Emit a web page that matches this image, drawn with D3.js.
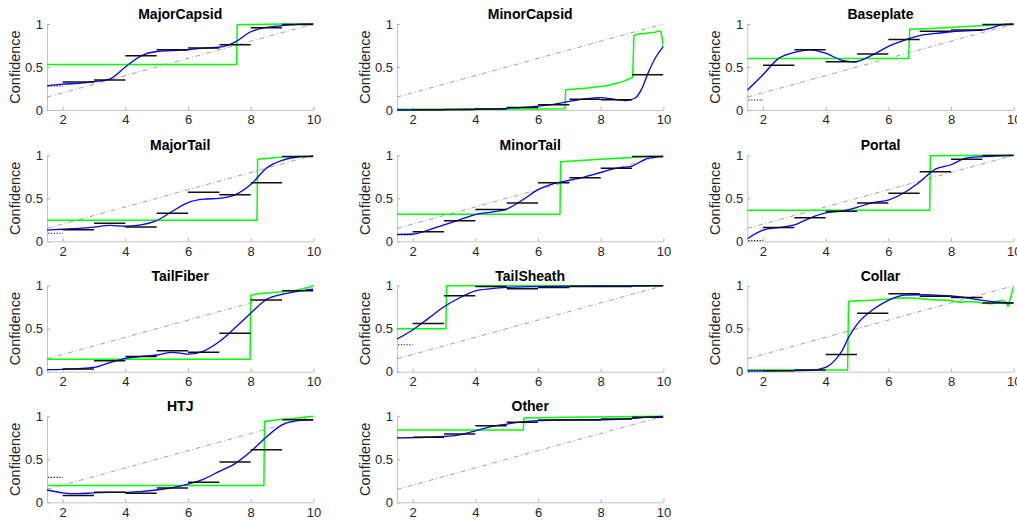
<!DOCTYPE html>
<html>
<head>
<meta charset="utf-8">
<script src="https://cdn.jsdelivr.net/npm/d3@7"></script>
<style>
  html, body { margin: 0; padding: 0; background: #fff; }
  svg { display: block; font-family: "Liberation Sans", Arial, Helvetica, sans-serif; }
</style>
</head>
<body>
<svg id="chart" width="1017" height="525"></svg>
<script>
// ---- data ----------------------------------------------------------------
const panelNames = ["MajorCapsid", "MinorCapsid", "Baseplate", "MajorTail", "MinorTail",
  "Portal", "TailFiber", "TailSheath", "Collar", "HTJ", "Other"];

const xTicks = [2, 4, 6, 8, 10];
const yTicks = [0, 0.5, 1];
const xDomain = [1.5, 10];
const yDomain = [0, 1];

// reference diagonal (confidence = score / 10)
const diagonalRef = [[1.5, 0.15], [10, 1]];

// score bins; first bin [1,2] drawn dotted, the rest solid
const binEdges = [1, 2, 3, 4, 5, 6, 7, 8, 9, 10];

// binned confidence per panel (one value per bin)
const majorCapsidBins = [0.28, 0.326, 0.35, 0.63, 0.70, 0.72, 0.76, 0.955, 0.995];
const minorCapsidBins = [0.004, 0.002, 0.006, 0.012, 0.03, 0.06, 0.125, 0.12, 0.41];
const baseplateBins   = [0.116, 0.52, 0.70, 0.56, 0.65, 0.82, 0.915, 0.93, 0.995];
const majorTailBins   = [0.093, 0.135, 0.21, 0.167, 0.326, 0.57, 0.54, 0.68, 0.985];
const minorTailBins   = [0.075, 0.11, 0.24, 0.37, 0.446, 0.68, 0.74, 0.85, 0.985];
const portalBins      = [0.01, 0.16, 0.275, 0.35, 0.446, 0.56, 0.81, 0.953, 0.998];
const tailFiberBins   = [0.025, 0.03, 0.128, 0.178, 0.244, 0.225, 0.446, 0.833, 0.94];
const tailSheathBins  = [0.314, 0.56, 0.884, 0.99, 0.965, 0.98, 0.99, 0.99, 0.998];
const collarBins      = [0.01, 0.01, 0.02, 0.2, 0.68, 0.907, 0.876, 0.864, 0.80];
const htjBins         = [0.29, 0.08, 0.116, 0.105, 0.167, 0.233, 0.47, 0.61, 0.96];
const otherBins       = [0.75, 0.756, 0.795, 0.89, 0.93, 0.957, 0.957, 0.97, 0.99];

// smoothed confidence curve per panel: [score, confidence]
const majorCapsidSmooth = [[1.5,0.28],[2,0.30],[2.5,0.31],[3,0.33],[3.5,0.36],[4,0.50],[4.5,0.63],[5,0.68],[5.5,0.69],[6,0.70],[6.5,0.72],[7,0.73],[7.5,0.79],[8,0.91],[8.5,0.96],[9,0.98],[9.5,0.995],[10,1.0]];
const minorCapsidSmooth = [[1.5,0.0],[2,0.0],[2.5,0.001],[3,0.003],[3.5,0.005],[4,0.008],[4.5,0.012],[5,0.02],[5.5,0.03],[6,0.045],[6.5,0.065],[7,0.1],[7.5,0.13],[8,0.145],[8.5,0.12],[8.8,0.11],[9.1,0.14],[9.3,0.24],[9.5,0.42],[9.75,0.61],[10,0.74]];
const baseplateSmooth   = [[1.5,0.23],[2,0.41],[2.5,0.60],[3,0.67],[3.5,0.70],[4,0.66],[4.5,0.58],[4.9,0.56],[5.5,0.64],[6,0.74],[6.5,0.81],[7,0.865],[7.5,0.89],[8,0.91],[8.5,0.92],[9,0.93],[9.3,0.955],[9.6,0.99],[10,1.0]];
const majorTailSmooth   = [[1.5,0.13],[2,0.14],[2.5,0.15],[3,0.165],[3.5,0.185],[4,0.175],[4.5,0.19],[5,0.24],[5.5,0.35],[6,0.45],[6.5,0.49],[7,0.50],[7.5,0.54],[8,0.66],[8.5,0.85],[9,0.94],[9.5,0.98],[10,0.99]];
const minorTailSmooth   = [[1.5,0.08],[2,0.085],[2.5,0.13],[3,0.19],[3.5,0.25],[4,0.31],[4.5,0.34],[5,0.375],[5.5,0.48],[6,0.60],[6.5,0.67],[7,0.71],[7.5,0.75],[8,0.80],[8.5,0.85],[9,0.875],[9.5,0.965],[10,0.985]];
const portalSmooth      = [[1.5,0.03],[2,0.13],[2.5,0.16],[3,0.19],[3.5,0.27],[4,0.33],[4.5,0.35],[5,0.395],[5.5,0.45],[6,0.48],[6.5,0.565],[7,0.69],[7.5,0.84],[8,0.89],[8.5,0.97],[9,0.985],[9.5,0.995],[10,1.0]];
const tailFiberSmooth   = [[1.5,0.023],[2,0.027],[2.5,0.035],[3,0.05],[3.5,0.105],[4,0.155],[4.5,0.178],[5,0.194],[5.5,0.225],[6,0.205],[6.5,0.24],[7,0.35],[7.5,0.51],[8,0.68],[8.5,0.84],[9,0.90],[9.5,0.935],[10,0.96]];
const tailSheathSmooth  = [[1.5,0.38],[2,0.485],[2.5,0.62],[3,0.755],[3.5,0.86],[4,0.94],[4.5,0.965],[5,0.98],[6,0.99],[7,0.995],[8,0.997],[9,0.998],[10,1.0]];
const collarSmooth      = [[1.5,0.01],[2,0.01],[2.5,0.012],[3,0.013],[3.5,0.015],[4,0.05],[4.3,0.135],[4.5,0.23],[4.75,0.41],[5,0.55],[5.5,0.72],[6,0.83],[6.5,0.89],[7,0.895],[7.5,0.89],[8,0.88],[8.5,0.86],[9,0.83],[9.5,0.81],[10,0.80]];
const htjSmooth         = [[1.5,0.143],[2,0.11],[2.5,0.10],[3,0.11],[3.5,0.115],[4,0.115],[4.5,0.125],[5,0.143],[5.5,0.17],[6,0.21],[6.5,0.27],[7,0.36],[7.5,0.45],[8,0.59],[8.5,0.76],[9,0.90],[9.5,0.95],[10,0.96]];
const otherSmooth       = [[1.5,0.75],[2,0.752],[2.5,0.758],[3,0.765],[3.5,0.785],[4,0.83],[4.5,0.88],[5,0.91],[5.5,0.935],[6,0.95],[6.5,0.955],[7,0.96],[8,0.96],[8.5,0.965],[9,0.975],[9.5,0.99],[10,1.0]];

// threshold (step) estimate per panel: [score, confidence]
const majorCapsidStep = [[1.5,0.53],[7.55,0.53],[7.57,0.99],[8,0.995],[9,1.0],[10,1.0]];
const minorCapsidStep = [[1.5,0.01],[3,0.01],[4,0.012],[5,0.012],[6,0.012],[6.86,0.015],[6.88,0.235],[7.2,0.245],[7.6,0.255],[7.9,0.27],[8.1,0.275],[8.3,0.29],[8.5,0.31],[8.7,0.33],[8.9,0.36],[9.02,0.38],[9.06,0.87],[9.2,0.885],[9.4,0.89],[9.6,0.90],[9.75,0.905],[9.85,0.92],[9.92,0.91],[9.97,0.82],[10,0.72]];
const baseplateStep   = [[1.5,0.60],[6.65,0.60],[6.68,0.94],[7.5,0.95],[8.5,0.97],[9.5,0.99],[10,1.0]];
const majorTailStep   = [[1.5,0.245],[8.2,0.245],[8.22,0.955],[9,0.98],[10,0.99]];
const minorTailStep   = [[1.5,0.315],[6.7,0.315],[6.72,0.925],[8,0.955],[9,0.975],[9.6,0.99],[10,0.99]];
const portalStep      = [[1.5,0.36],[7.32,0.36],[7.34,0.995],[10,1.0]];
const tailFiberStep   = [[1.5,0.145],[7.98,0.145],[8.0,0.89],[8.2,0.905],[8.5,0.915],[8.8,0.925],[9.0,0.93],[9.2,0.945],[9.4,0.94],[9.6,0.96],[9.8,0.975],[10,1.0]];
const tailSheathStep  = [[1.5,0.5],[3.06,0.5],[3.08,1.0],[10,1.0]];
const collarStep      = [[1.5,0.02],[4.7,0.02],[4.73,0.82],[5.0,0.825],[5.5,0.83],[6.0,0.845],[6.5,0.86],[7.0,0.85],[7.3,0.84],[7.6,0.835],[7.9,0.83],[8.1,0.82],[8.3,0.805],[8.5,0.815],[8.8,0.81],[9.0,0.80],[9.3,0.79],[9.5,0.82],[9.65,0.83],[9.75,0.81],[9.82,0.76],[9.9,0.86],[10,0.99]];
const htjStep         = [[1.5,0.195],[8.42,0.195],[8.44,0.94],[9,0.965],[9.5,0.98],[10,1.0]];
const otherStep       = [[1.5,0.84],[5.53,0.84],[5.55,0.98],[7,0.99],[8.5,0.995],[10,1.0]];

const panelBins   = [majorCapsidBins, minorCapsidBins, baseplateBins, majorTailBins, minorTailBins,
  portalBins, tailFiberBins, tailSheathBins, collarBins, htjBins, otherBins];
const panelSmooth = [majorCapsidSmooth, minorCapsidSmooth, baseplateSmooth, majorTailSmooth, minorTailSmooth,
  portalSmooth, tailFiberSmooth, tailSheathSmooth, collarSmooth, htjSmooth, otherSmooth];
const panelStep   = [majorCapsidStep, minorCapsidStep, baseplateStep, majorTailStep, minorTailStep,
  portalStep, tailFiberStep, tailSheathStep, collarStep, htjStep, otherStep];

// ---- layout ----------------------------------------------------------------
const colLeft = [47, 397, 747.3];
const rowTop = [24, 155.3, 285.7, 416.3];
const plotW = 266.4;
const plotH = 86;

const svg = d3.select("#chart");
const defs = svg.append("defs");

const x = d3.scaleLinear().domain(xDomain).range([0, plotW]);
const y = d3.scaleLinear().domain(yDomain).range([plotH, 0]);

const lineLinear = d3.line().x(d => x(d[0])).y(d => y(d[1]));
const lineSmooth = d3.line().x(d => x(d[0])).y(d => y(d[1])).curve(d3.curveMonotoneX);

defs.append("clipPath").attr("id", "plotClip")
  .append("rect").attr("x", 0).attr("y", -2).attr("width", plotW).attr("height", plotH + 3);

panelNames.forEach((name, i) => {
  const col = i % 3, row = Math.floor(i / 3);
  const g = svg.append("g").attr("transform", `translate(${colLeft[col]},${rowTop[row]})`);

  // axes
  const xAxis = d3.axisBottom(x).tickValues(xTicks).tickFormat(d3.format("d"))
    .tickSizeInner(-3).tickSizeOuter(0).tickPadding(5);
  const yAxis = d3.axisLeft(y).tickValues(yTicks).tickFormat(d => d === 0.5 ? "0.5" : String(d))
    .tickSizeInner(-3).tickSizeOuter(0).tickPadding(4);

  const gx = g.append("g").attr("transform", `translate(0,${plotH})`).call(xAxis);
  const gy = g.append("g").call(yAxis);
  [gx, gy].forEach(a => {
    a.select(".domain").attr("stroke", "#c4c4c4").attr("stroke-width", 1);
    a.selectAll(".tick line").attr("stroke", "#b0b0b0").attr("stroke-width", 1);
    a.selectAll(".tick text").attr("fill", "#262626").attr("font-size", 13)
      .attr("font-family", "'Liberation Sans', Arial, Helvetica, sans-serif");
  });

  // title and y label
  g.append("text").attr("x", plotW / 2).attr("y", -5).attr("text-anchor", "middle")
    .attr("font-size", 14).attr("font-weight", "bold").attr("fill", "#000").text(name);
  g.append("text").attr("transform", `translate(${-32},${plotH / 2}) rotate(-90)`)
    .attr("text-anchor", "middle").attr("dy", "0.35em").attr("font-size", 14.5)
    .attr("fill", "#262626").text("Confidence");

  const plot = g.append("g").attr("clip-path", "url(#plotClip)");

  // diagonal reference
  plot.append("path").attr("d", lineLinear(diagonalRef)).attr("fill", "none")
    .attr("stroke", "#7a7a7a").attr("stroke-width", 0.7).attr("stroke-dasharray", "5,2.5,1,2.5");

  // step estimate
  plot.append("path").attr("d", lineLinear(panelStep[i])).attr("fill", "none")
    .attr("stroke", "#00ff00").attr("stroke-width", 1.5).attr("stroke-linejoin", "round");

  // smoothed estimate
  plot.append("path").attr("d", lineSmooth(panelSmooth[i])).attr("fill", "none")
    .attr("stroke", "#0000ff").attr("stroke-width", 1.3);

  // binned values
  panelBins[i].forEach((v, k) => {
    plot.append("line")
      .attr("x1", x(binEdges[k])).attr("x2", x(binEdges[k + 1]))
      .attr("y1", y(v)).attr("y2", y(v))
      .attr("stroke", "#111").attr("stroke-width", k === 0 ? 1.1 : 1.5)
      .attr("stroke-dasharray", k === 0 ? "1.2,1.6" : null);
  });
});
</script>
</body>
</html>
